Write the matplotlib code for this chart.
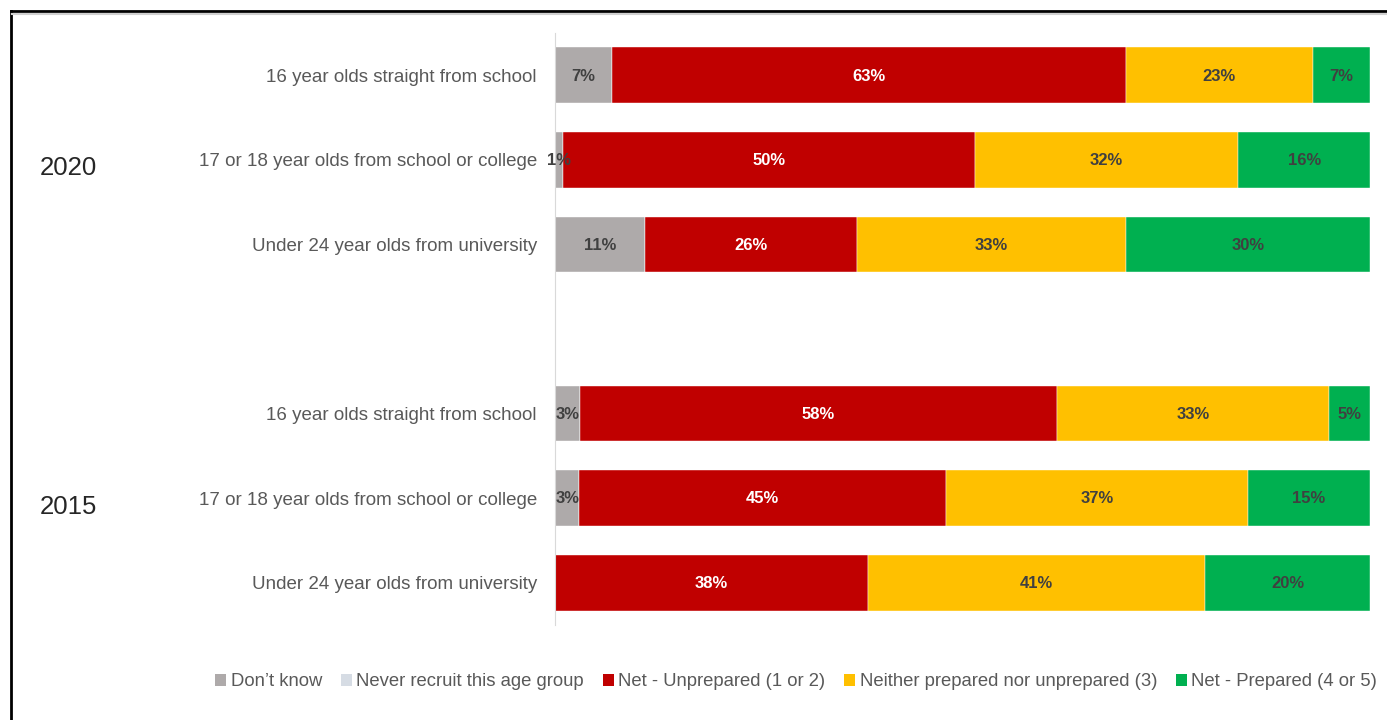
import numpy as np
import matplotlib
matplotlib.use('Agg')
from matplotlib import pyplot as plt
from matplotlib.patches import Patch

plt.rcParams['font.family'] = ['Liberation Sans', 'DejaVu Sans']

# Data: share of employers rating each age group, per survey year

rows = ['16 year olds straight from school',
        '17 or 18 year olds from school or college',
        'Under 24 year olds from university',
        '',
        '16 year olds straight from school',
        '17 or 18 year olds from school or college',
        'Under 24 year olds from university']
years = ['2020', '2015']
year_rows = [1, 5]

series = ["Don’t know", 'Never recruit this age group', 'Net - Unprepared (1 or 2)',
          'Neither prepared nor unprepared (3)', 'Net - Prepared (4 or 5)']
dont_know = [7, 1, 11, 0, 3, 3, 0]
never_recruit = [0, 0, 0, 0, 0, 0, 0]
unprepared = [63, 50, 26, 0, 58, 45, 38]
neither = [23, 32, 33, 0, 33, 37, 41]
prepared = [7, 16, 30, 0, 5, 15, 20]

colors = ['#AEAAAA', '#D6DCE4', '#C00000', '#FFC000', '#00B050']
label_colors = ['#404040', '#404040', 'white', '#404040', '#404040']

values = np.array([dont_know, never_recruit, unprepared, neither, prepared], dtype=float)
totals = values.sum(axis=0)
totals[totals == 0] = 1
shares = values / totals * 100

# Figure

W, H = 1387, 720
fig = plt.figure(figsize=(W / 100, H / 100), dpi=100)
ax = fig.add_axes([555 / W, 1 - 625 / H, 815 / W, (625 - 33) / H])

y = np.arange(len(rows))
left = np.zeros(len(rows))
for i, name in enumerate(series):
    ax.barh(y, shares[i], left=left, height=0.66, color=colors[i], label=name,
            edgecolor='white', linewidth=0.3)
    for j in range(len(rows)):
        v = values[i, j]
        if v > 0:
            ax.text(left[j] + shares[i, j] / 2, y[j] + 0.01, f'{int(v)}%', ha='center', va='center',
                    fontsize=12, fontweight='bold', color=label_colors[i])
    left += shares[i]

ax.set_xlim(0, 100)
ax.set_ylim(len(rows) - 0.5, -0.5)
ax.set_xticks([])
ax.set_yticks(y)
ax.set_yticklabels(rows, fontsize=13.5, color='#595959')
ax.tick_params(axis='y', length=0, pad=13)
for side in ['top', 'right', 'bottom']:
    ax.spines[side].set_visible(False)
ax.spines['left'].set_color('#D9D9D9')

trans = matplotlib.transforms.blended_transform_factory(fig.transFigure, ax.transData)
for yr, r in zip(years, year_rows):
    ax.text(40 / W, r + 0.1, yr, transform=trans, ha='left', va='center',
            fontsize=18.5, color='#262626')

handles = [Patch(facecolor=c, edgecolor='none') for c in colors]
fig.legend(handles, series, loc='center', bbox_to_anchor=(0.574, 1 - 682 / H), ncol=5,
           frameon=False, handlelength=0.6, handleheight=0.6, handletextpad=0.25,
           columnspacing=1.0, prop={'size': 13.3}, labelcolor='#595959')

# Outer frame
fig.add_artist(plt.Line2D([11 / W, 11 / W], [0, 1 - 11 / H], transform=fig.transFigure,
                          color='black', lw=2))
fig.add_artist(plt.Line2D([11 / W, 1], [1 - 11 / H, 1 - 11 / H], transform=fig.transFigure,
                          color='black', lw=2))
fig.add_artist(plt.Line2D([12 / W, 1], [1 - 13.5 / H, 1 - 13.5 / H], transform=fig.transFigure,
                          color='#D0D0D0', lw=1.5))

fig.savefig('out.png', dpi=100)
